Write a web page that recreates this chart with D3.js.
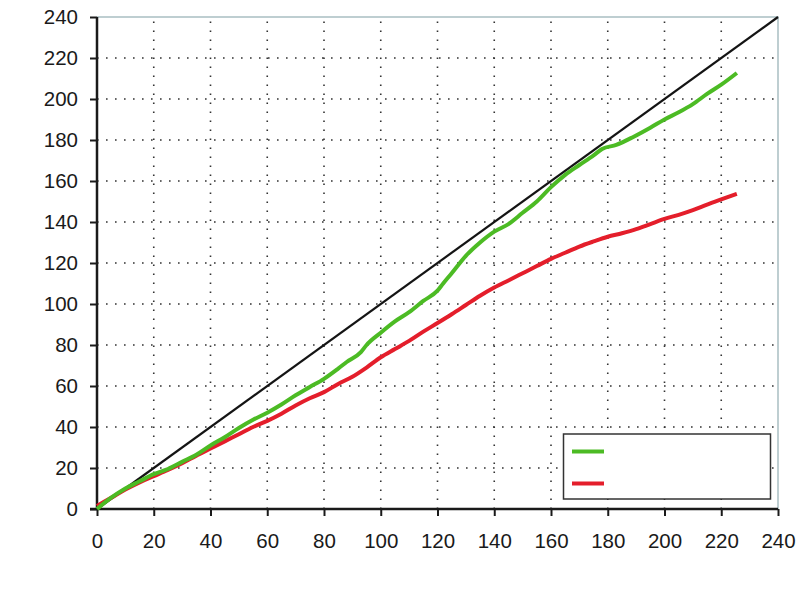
<!DOCTYPE html>
<html><head><meta charset="utf-8">
<script src="https://cdn.jsdelivr.net/npm/d3@7"></script>
<style>body{margin:0;background:#fff}svg{display:block}</style>
</head><body>
<svg id="c" width="800" height="599"></svg>
<script>
const xTicks = [0,20,40,60,80,100,120,140,160,180,200,220,240];
const yTicks = [0,20,40,60,80,100,120,140,160,180,200,220,240];
const refLine = [[0,0],[240,240]];
const greenX = [0,5,10,15,20,25,30,35,40,45,50,55,60,65,70,75,80,85,88,93,95,100,105,110,115,120,122,125,130,135,140,145,150,155,160,165,170,175,178,183,189,195,200,205,210,215,220,225.5];
const greenY = [0,5.5,10,13.5,17,19.5,23,26.5,31,35,39.5,43.5,47,51,55.5,59.5,63.5,68.5,71.7,76.5,80,86,91.5,96,101.5,106.5,110,115,123.5,130,135.3,139,144.5,150,157,163,167.8,172.5,175.6,177.6,181.5,186,190,193.5,197.5,202.5,207,212.7];
const redX = [0,5,10,15,20,25,30,35,40,45,50,55,60,65,70,75,80,85,90,95,100,105,110,115,120,125,130,135,140,145,150,155,160,165,170,175,180,185,190,195,200,205,210,215,220,225.5];
const redY = [1.5,5.5,9.5,13,16,19,22.3,26,29.5,33,36.5,40,43,46.5,50.5,54,57,61,64.5,69,74,78,82,86.5,90.7,95,99.5,104,108,111.5,115,118.5,122,125,128,130.5,132.8,134.5,136.5,139,141.5,143.5,145.8,148.5,151,153.7];

const svg = d3.select('#c');
const L=97, R=778, T=17, B=509;
const x = d3.scaleLinear().domain([0,240]).range([L,R]);
const y = d3.scaleLinear().domain([0,240]).range([B,T]);
const font = 'Liberation Sans, Arial, sans-serif';

// grid
const g = svg.append('g');
g.selectAll('.gx').data(xTicks.slice(1,-1)).join('line')
  .attr('x1',d=>x(d)).attr('x2',d=>x(d)).attr('y1',B).attr('y2',T)
  .attr('stroke','#333').attr('stroke-width',1.6).attr('stroke-dasharray','1.6,7.4');
g.selectAll('.gy').data(yTicks.slice(1,-1)).join('line')
  .attr('x1',L).attr('x2',R).attr('y1',d=>y(d)).attr('y2',d=>y(d))
  .attr('stroke','#333').attr('stroke-width',1.6).attr('stroke-dasharray','1.6,7.4');

// top/right frame
svg.append('path').attr('d',`M${L},${T}H${R}V${B}`).attr('fill','none')
  .attr('stroke','#a9bfc2').attr('stroke-width',1.5);

// axes
const xa = svg.append('g').attr('transform',`translate(0,${B})`)
  .call(d3.axisBottom(x).tickValues(xTicks).tickSize(7).tickPadding(17).tickSizeOuter(0));
const ya = svg.append('g').attr('transform',`translate(${L},0)`)
  .call(d3.axisLeft(y).tickValues(yTicks).tickSize(7).tickPadding(12).tickSizeOuter(0));
[xa,ya].forEach(a=>{
  a.select('.domain').attr('stroke','#1a1a1a').attr('stroke-width',2.5);
  a.selectAll('.tick line').attr('stroke','#1a1a1a').attr('stroke-width',2);
  a.selectAll('text').attr('font-family',font).attr('font-size',20.5).attr('fill','#1a1a1a');
});
ya.select('.domain').attr('d',`M0,${B}V${T}`);
xa.select('.domain').attr('d',`M${L-7},0H${R}`);

const line = d3.line().x(d=>x(d[0])).y(d=>y(d[1]));
svg.append('path').datum(refLine).attr('d',line).attr('fill','none')
  .attr('stroke','#141414').attr('stroke-width',2.2);
const red = redX.map((v,i)=>[v,redY[i]]);
const green = greenX.map((v,i)=>[v,greenY[i]]);
svg.append('path').datum(red).attr('d',line.curve(d3.curveMonotoneX)).attr('fill','none')
  .attr('stroke','#e41e2b').attr('stroke-width',4).attr('stroke-linejoin','round');
svg.append('path').datum(green).attr('d',line.curve(d3.curveMonotoneX)).attr('fill','none')
  .attr('stroke','#4cbb24').attr('stroke-width',4).attr('stroke-linejoin','round');

// legend
const lg = svg.append('g');
lg.append('rect').attr('x',563.5).attr('y',434).attr('width',207).attr('height',65)
  .attr('fill','#fff').attr('stroke','#333').attr('stroke-width',1.5);
const legendSeries = [{name:'',color:'#4cbb24'},{name:'',color:'#e41e2b'}];
legendSeries.forEach((s,i)=>{
  const yy = 451.5 + i*32;
  lg.append('line').attr('x1',572).attr('x2',604).attr('y1',yy).attr('y2',yy)
    .attr('stroke',s.color).attr('stroke-width',4);
  lg.append('text').attr('x',612).attr('y',yy+6).attr('font-family',font).attr('font-size',16).text(s.name);
});
</script>
</body></html>
